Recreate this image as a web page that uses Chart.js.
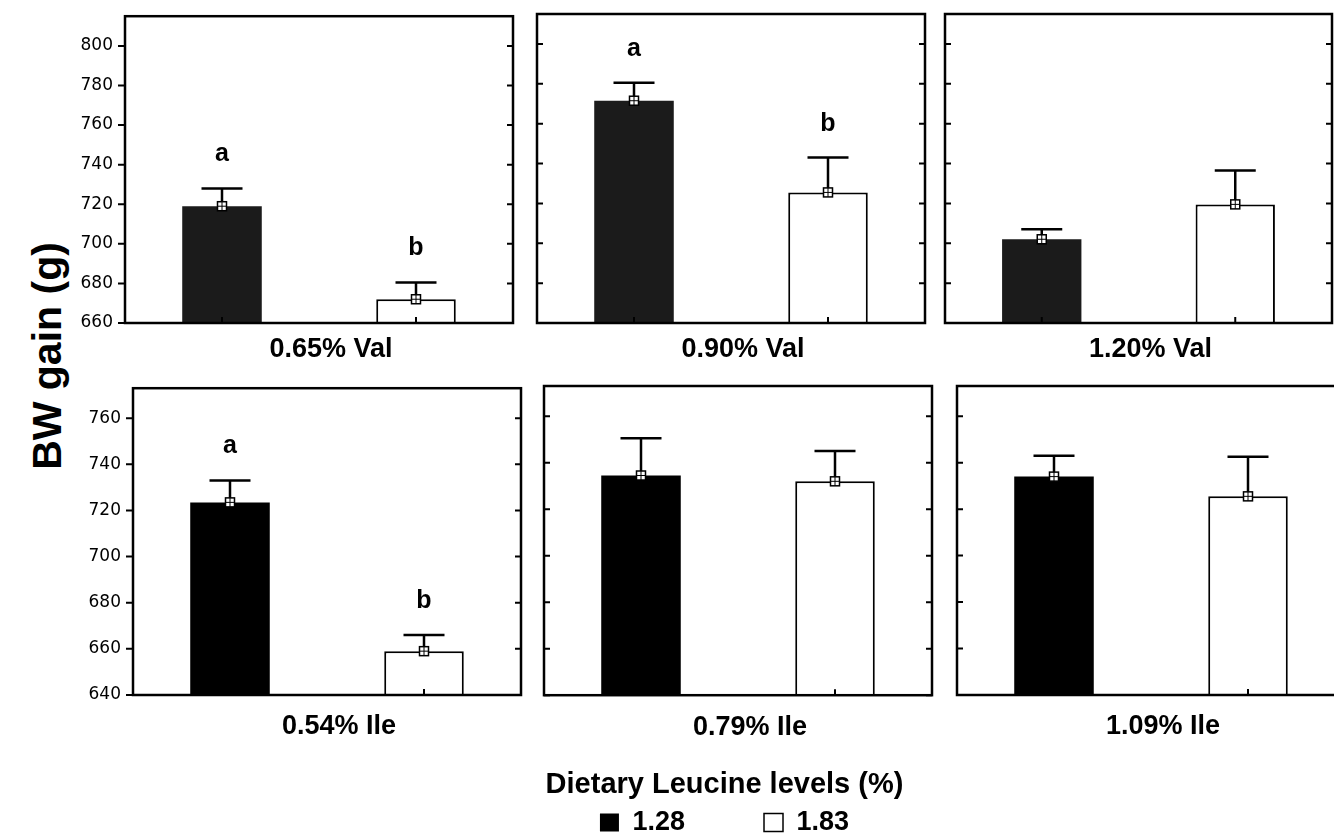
<!DOCTYPE html>
<html>
<head>
<meta charset="utf-8">
<title>BW gain</title>
<script src="https://cdn.jsdelivr.net/npm/chart.js@4.4.0/dist/chart.umd.min.js"></script>
<style>
  html, body { margin: 0; padding: 0; background: #fff; overflow: hidden; }
  body { width: 1334px; height: 834px; position: relative; }
  canvas { position: absolute; }
  #ytitle {
    position: absolute; left: 47px; top: 356px;
    transform: translate(-50%, -50%) rotate(-90deg);
    white-space: nowrap; color: #000;
    font: bold 41px/1 "Liberation Sans", Arial, sans-serif;
  }
</style>
</head>
<body>
<div id="ytitle">BW gain (g)</div>
<canvas id="p1"></canvas>
<canvas id="p2"></canvas>
<canvas id="p3"></canvas>
<canvas id="p4"></canvas>
<canvas id="p5"></canvas>
<canvas id="p6"></canvas>
<script>
// data
var panelLabels = ['0.65% Val', '0.90% Val', '1.20% Val', '0.54% Ile', '0.79% Ile', '1.09% Ile'];
var leucineLevels = ['1.28', '1.83'];
var gainLow  = [719, 771.5, 702, 723.5, 734.5, 734];     // Leu 1.28 %
var gainHigh = [672, 725.5, 719.5, 659, 732, 725.5];     // Leu 1.83 %
var seLow  = [9, 9, 5, 9.5, 16, 9];
var seHigh = [8.5, 17.5, 17, 7, 13, 17];
var letterLow  = ['a', 'a', '', 'a', '', ''];
var letterHigh = ['b', 'b', '', 'b', '', ''];
var yTicksVal = [660, 680, 700, 720, 740, 760, 780, 800];
var yTicksIle = [640, 660, 680, 700, 720, 740, 760];
var yRangeVal = [660, 815];
var yRangeIle = [640, 773];

// panel placement
var panels = [
  {id: 'p1', left: 70,  top: -6,  width: 446, height: 372, axisW: 55, xH: 43, row: 0, labels: true},
  {id: 'p2', left: 527, top: -6,  width: 401, height: 372, axisW: 10, xH: 43, row: 0, labels: false},
  {id: 'p3', left: 935, top: -6,  width: 400, height: 372, axisW: 10, xH: 43, row: 0, labels: false},
  {id: 'p4', left: 78,  top: 366, width: 446, height: 377, axisW: 55, xH: 48, row: 1, labels: true},
  {id: 'p5', left: 517, top: 366, width: 417, height: 480, axisW: 27, xH: 48, row: 1, labels: false, legend: true},
  {id: 'p6', left: 947, top: 366, width: 401, height: 377, axisW: 10, xH: 48, row: 1, labels: false}
];

Chart.defaults.font.family = '"Liberation Sans", Arial, sans-serif';
Chart.defaults.color = '#000';

var panelDecor = {
  id: 'panelDecor',
  afterDatasetsDraw: function(chart, args, opts) {
    var ctx = chart.ctx, a = chart.chartArea;
    var xs = chart.scales.x, ys = chart.scales.y;
    var i = opts.index;
    var means = [gainLow[i], gainHigh[i]];
    var ses = [seLow[i], seHigh[i]];
    var lets = [letterLow[i], letterHigh[i]];
    ctx.save();
    ctx.strokeStyle = '#000';
    for (var k = 0; k < 2; k++) {
      var x = xs.getPixelForValue(k);
      var ym = ys.getPixelForValue(means[k]);
      var yt = ys.getPixelForValue(means[k] + ses[k]);
      ctx.lineWidth = 2.5;
      ctx.beginPath();
      ctx.moveTo(x, ym); ctx.lineTo(x, yt);
      ctx.moveTo(x - 20.5, yt); ctx.lineTo(x + 20.5, yt);
      ctx.stroke();
      // mean marker
      ctx.fillStyle = '#fff';
      ctx.lineWidth = 1.5;
      ctx.fillRect(x - 4.5, ym - 4.5, 9, 9);
      ctx.strokeRect(x - 4.5, ym - 4.5, 9, 9);
      ctx.lineWidth = 1;
      ctx.beginPath();
      ctx.moveTo(x, ym - 4.5); ctx.lineTo(x, ym + 4.5);
      ctx.moveTo(x - 4.5, ym); ctx.lineTo(x + 4.5, ym);
      ctx.stroke();
      if (lets[k]) {
        ctx.fillStyle = '#000';
        ctx.font = 'bold 25px "Liberation Sans", Arial, sans-serif';
        ctx.textAlign = 'center';
        ctx.textBaseline = 'alphabetic';
        ctx.fillText(lets[k], x, yt - 27);
      }
    }
    // frame
    ctx.lineWidth = 2.5;
    ctx.strokeRect(a.left, a.top, a.right - a.left, a.bottom - a.top);
    // tick marks
    ctx.lineWidth = 2;
    ctx.beginPath();
    ys.ticks.forEach(function(t) {
      var y = ys.getPixelForValue(t.value);
      if (opts.outerLeft) { ctx.moveTo(a.left - 7, y); ctx.lineTo(a.left, y); }
      else { ctx.moveTo(a.left, y); ctx.lineTo(a.left + 6, y); }
      ctx.moveTo(a.right, y); ctx.lineTo(a.right - 6, y);
    });
    xs.ticks.forEach(function(t, j) {
      var x = xs.getPixelForTick(j);
      ctx.moveTo(x, a.bottom); ctx.lineTo(x, a.bottom - 6);
    });
    ctx.stroke();
    // panel label under the frame, a little right of centre as in the original
    ctx.fillStyle = '#000';
    ctx.font = 'bold 27px "Liberation Sans", Arial, sans-serif';
    ctx.textAlign = 'center';
    ctx.textBaseline = 'middle';
    ctx.fillText(panelLabels[i], (a.left + a.right) / 2 + 12, a.bottom + opts.labelGap);
    ctx.restore();
  }
};

panels.forEach(function(p, i) {
  var canvas = document.getElementById(p.id);
  canvas.width = p.width;
  canvas.height = p.height;
  canvas.style.left = p.left + 'px';
  canvas.style.top = p.top + 'px';

  var black = p.row === 0 ? '#1b1b1b' : '#000';
  var range = p.row === 0 ? yRangeVal : yRangeIle;
  var tickVals = p.row === 0 ? yTicksVal : yTicksIle;

  var data = {
    labels: leucineLevels,
    datasets: [
      {
        label: leucineLevels[0],
        data: [gainLow[i], null],
        backgroundColor: black,
        borderColor: '#000',
        borderWidth: 0
      },
      {
        label: leucineLevels[1],
        data: [null, gainHigh[i]],
        backgroundColor: '#fff',
        borderColor: '#000',
        borderWidth: 2
      }
    ]
  };

  var options = {
    responsive: false,
    animation: false,
    devicePixelRatio: 1,
    layout: { padding: { top: 20, right: 3, bottom: 0, left: 0 } },
    datasets: {
      bar: { skipNull: true, categoryPercentage: 1, barPercentage: 0.41, borderSkipped: false }
    },
    scales: {
      x: {
        grid: { display: false, drawTicks: false },
        border: { display: false },
        ticks: { display: false },
        afterFit: function(s) { s.height = p.xH; }
      },
      y: {
        min: range[0],
        max: range[1],
        grid: { display: false, drawTicks: false },
        border: { display: false },
        ticks: {
          display: p.labels,
          padding: 12,
          color: '#000',
          font: { family: '"DejaVu Sans", sans-serif', size: 17 }
        },
        afterBuildTicks: function(s) {
          s.ticks = tickVals.map(function(v) { return { value: v }; });
        },
        afterFit: function(s) { s.width = p.axisW; }
      }
    },
    plugins: {
      legend: { display: false },
      tooltip: { enabled: false },
      panelDecor: { index: i, outerLeft: p.labels, labelGap: p.row === 0 ? 27 : 32 }
    }
  };

  if (p.legend) {
    options.layout.padding.right = 2;
    options.plugins.legend = {
      display: true,
      position: 'bottom',
      title: {
        display: true,
        text: 'Dietary Leucine levels (%)',
        color: '#000',
        font: { size: 29, weight: 'bold' },
        padding: { top: 27, bottom: 0 }
      },
      labels: {
        color: '#000',
        boxWidth: 19,
        boxHeight: 18,
        padding: 4,
        font: { size: 27, weight: 'bold' },
        generateLabels: function(chart) {
          var items = Chart.defaults.plugins.legend.labels.generateLabels(chart);
          items.forEach(function(it, k) {
            it.fillStyle = k === 0 ? '#000' : '#fff';
            it.lineWidth = k === 0 ? 0 : 1.5;
            if (k === 0) it.text = it.text + '          ';
          });
          return items;
        }
      }
    };
  }

  new Chart(canvas.getContext('2d'), {
    type: 'bar',
    data: data,
    options: options,
    plugins: [panelDecor]
  });
});
</script>
</body>
</html>
